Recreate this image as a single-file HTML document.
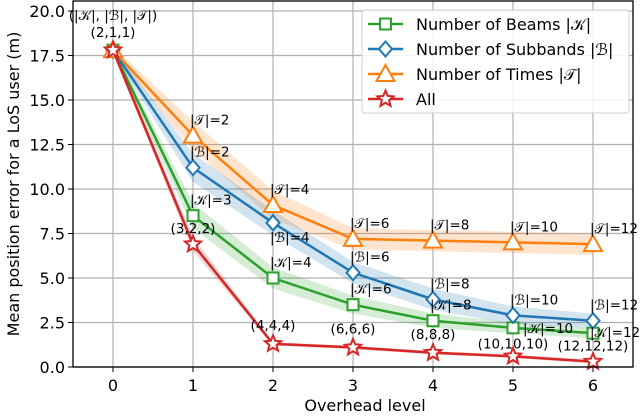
<!DOCTYPE html>
<html><head><meta charset="utf-8"><style>
body{margin:0;background:#fff;width:640px;height:416px;overflow:hidden;font-family:"DejaVu Sans","Liberation Sans",sans-serif}
svg text{font-family:"DejaVu Sans","Liberation Sans",sans-serif}
</style></head><body>
<svg id="c" width="640" height="416" xmlns="http://www.w3.org/2000/svg"></svg>
<script>
const levels=[0,1,2,3,4,5,6];
const yTicks=[0,2.5,5,7.5,10,12.5,15,17.5,20];
const yTickLabels=["0.0","2.5","5.0","7.5","10.0","12.5","15.0","17.5","20.0"];
const beams=[17.8,8.5,5.0,3.5,2.6,2.2,1.9];
const beamsErr=[0.2,0.7,0.6,0.5,0.4,0.3,0.3];
const subbands=[17.8,11.2,8.1,5.3,3.8,2.9,2.6];
const subbandsErr=[0.2,0.8,0.7,0.6,0.6,0.5,0.4];
const times=[17.8,13.0,9.1,7.2,7.1,7.0,6.9];
const timesErr=[0.2,0.8,0.8,0.6,0.6,0.6,0.6];
const all=[17.8,6.9,1.3,1.1,0.8,0.6,0.3];
const allErr=[0.2,0.4,0.1,0.1,0.1,0.1,0.1];
const beamLabels=["","|𝒦|=3","|𝒦|=4","|𝒦|=6","|𝒦|=8","|𝒦|=10","|𝒦|=12"];
const subLabels=["","|ℬ|=2","|ℬ|=4","|ℬ|=6","|ℬ|=8","|ℬ|=10","|ℬ|=12"];
const timeLabels=["","|𝒯|=2","|𝒯|=4","|𝒯|=6","|𝒯|=8","|𝒯|=10","|𝒯|=12"];
const allLabels=["","(3,2,2)","(4,4,4)","(6,6,6)","(8,8,8)","(10,10,10)","(12,12,12)"];

const L=73,R=633,T=1,B=367;
const X=v=>L+(v+0.5)*(R-L)/7;
const Y=v=>B-v*(B-11)/20;
const svg=document.getElementById('c');
const NS="http://www.w3.org/2000/svg";
function el(t,a,p){const e=document.createElementNS(NS,t);for(const k in a)e.setAttribute(k,a[k]);(p||svg).appendChild(e);return e;}

levels.forEach((v,i)=>{const g=el('line',{x1:X(v),x2:X(v),y1:T,y2:B,stroke:'#b0b0b0','stroke-width':1.2});

const t=el('text',{x:X(v),y:B+24,'text-anchor':'middle','font-size':16,fill:'#000'});t.textContent=v;

el('line',{x1:X(v),x2:X(v),y1:B,y2:B+5,stroke:'#000'});});
yTicks.forEach((v,i)=>{const g=el('line',{x1:L,x2:R,y1:Y(v),y2:Y(v),stroke:'#b0b0b0','stroke-width':1.2});

const t=el('text',{x:L-8,y:Y(v)+6,'text-anchor':'end','font-size':16,fill:'#000'});t.textContent=yTickLabels[i];

el('line',{x1:L-5,x2:L,y1:Y(v),y2:Y(v),stroke:'#000'});});

function band(vals,err,col,name){
  let d='M'+levels.map((v,i)=>X(v)+','+Y(vals[i]+err[i])).join('L');
  d+='L'+levels.slice().reverse().map(v=>X(v)+','+Y(vals[v]-err[v])).join('L')+'Z';
  const p=el('path',{d:d,fill:col,'fill-opacity':0.2,stroke:'none'});
  
}
function marker(type,x,y,col,g){
  if(type==='sq')return el('rect',{x:x-5.5,y:y-5.5,width:11,height:11,fill:'#fff',stroke:col,'stroke-width':2},g);
  if(type==='di')return el('polygon',{points:`${x},${y-7.5} ${x+6.5},${y} ${x},${y+7.5} ${x-6.5},${y}`,fill:'#fff',stroke:col,'stroke-width':2},g);
  if(type==='tr')return el('polygon',{points:`${x},${y-9} ${x+9},${y+7} ${x-9},${y+7}`,fill:'#fff',stroke:col,'stroke-width':2},g);
  let pts=[];for(let k=0;k<10;k++){const r=k%2?3.8:8.5;const a=-Math.PI/2+k*Math.PI/5;pts.push((x+r*Math.cos(a)).toFixed(1)+','+(y+r*Math.sin(a)).toFixed(1));}
  return el('polygon',{points:pts.join(' '),fill:'#fff',stroke:col,'stroke-width':2},g);
}
function series(vals,col,type,name){
  const g=el('g',{});
  el('polyline',{points:levels.map((v,i)=>X(v)+','+Y(vals[i])).join(' '),fill:'none',stroke:col,'stroke-width':2.5},g);
  levels.forEach((v,i)=>{const m=marker(type,X(v),Y(vals[i]),col,g);
    });
}
const C={g:'#2ca02c',b:'#1f77b4',o:'#ff7f0e',r:'#d62728'};
band(times,timesErr,C.o,'times-band');band(subbands,subbandsErr,C.b,'subbands-band');
band(beams,beamsErr,C.g,'beams-band');band(all,allErr,C.r,'all-band');
series(beams,C.g,'sq','beams-series');series(subbands,C.b,'di','subbands-series');
series(times,C.o,'tr','times-series');series(all,C.r,'st','all-series');

function lab(txt,x,y,anchor,name){const t=el('text',{x:x,y:y,'text-anchor':anchor||'start','font-size':13.5,fill:'#000'});t.textContent=txt;
}
levels.forEach((v,i)=>{if(i===0)return;
  lab(timeLabels[i],X(v)-3,Y(times[i])-11,'start','times-annotation');
  if(i===2)lab(subLabels[i],X(v)-3,Y(subbands[i])+19,'start','subbands-annotation');
  else lab(subLabels[i],X(v)-3,Y(subbands[i])-11,'start','subbands-annotation');
  if(i===5)lab(beamLabels[i],X(v)+10,Y(beams[i])+5,'start','beams-annotation');
  else if(i===6)lab(beamLabels[i],X(v)-3,Y(beams[i])+4,'start','beams-annotation');
  else lab(beamLabels[i],X(v)-3,Y(beams[i])-11,'start','beams-annotation');
  if(i===1)lab(allLabels[i],X(v),Y(all[i])-11,'middle','all-annotation');
  else if(i===5)lab(allLabels[i],X(v),Y(all[i])-8,'middle','all-annotation');
  else if(i===6)lab(allLabels[i],X(v),Y(all[i])-11,'middle','all-annotation');
  else lab(allLabels[i],X(v),Y(all[i])-14,'middle','all-annotation');
});
lab('(|𝒦|, |ℬ|, |𝒯|)',X(0),20,'middle','origin-annotation-title');
lab('(2,1,1)',X(0),37,'middle','origin-annotation');

el('rect',{x:L,y:T,width:R-L,height:B-T,fill:'none',stroke:'#000','stroke-width':1.3});
const xt=el('text',{x:(L+R)/2+12,y:411,'text-anchor':'middle','font-size':16});xt.textContent='Overhead level';

const yt=el('text',{x:0,y:0,'text-anchor':'middle','font-size':16,transform:`translate(19,${(T+B)/2}) rotate(-90)`});yt.textContent='Mean position error for a LoS user (m)';


const lg=el('g',{});
el('rect',{x:362,y:10,width:267,height:103,rx:3,fill:'#fff','fill-opacity':0.85,stroke:'#d0d0d0'},lg);
const leg=[['Number of Beams |𝒦|',C.g,'sq'],['Number of Subbands |ℬ|',C.b,'di'],['Number of Times |𝒯|',C.o,'tr'],['All',C.r,'st']];
leg.forEach((e,i)=>{const y=24+i*25;const g=el('g',{},lg);
  
  el('line',{x1:368,x2:403,y1:y,y2:y,stroke:e[1],'stroke-width':2.5},g);marker(e[2],385.5,y,e[1],g);
  const t=el('text',{x:416,y:y+6,'font-size':16},g);t.textContent=e[0];});
</script>
</body></html>
